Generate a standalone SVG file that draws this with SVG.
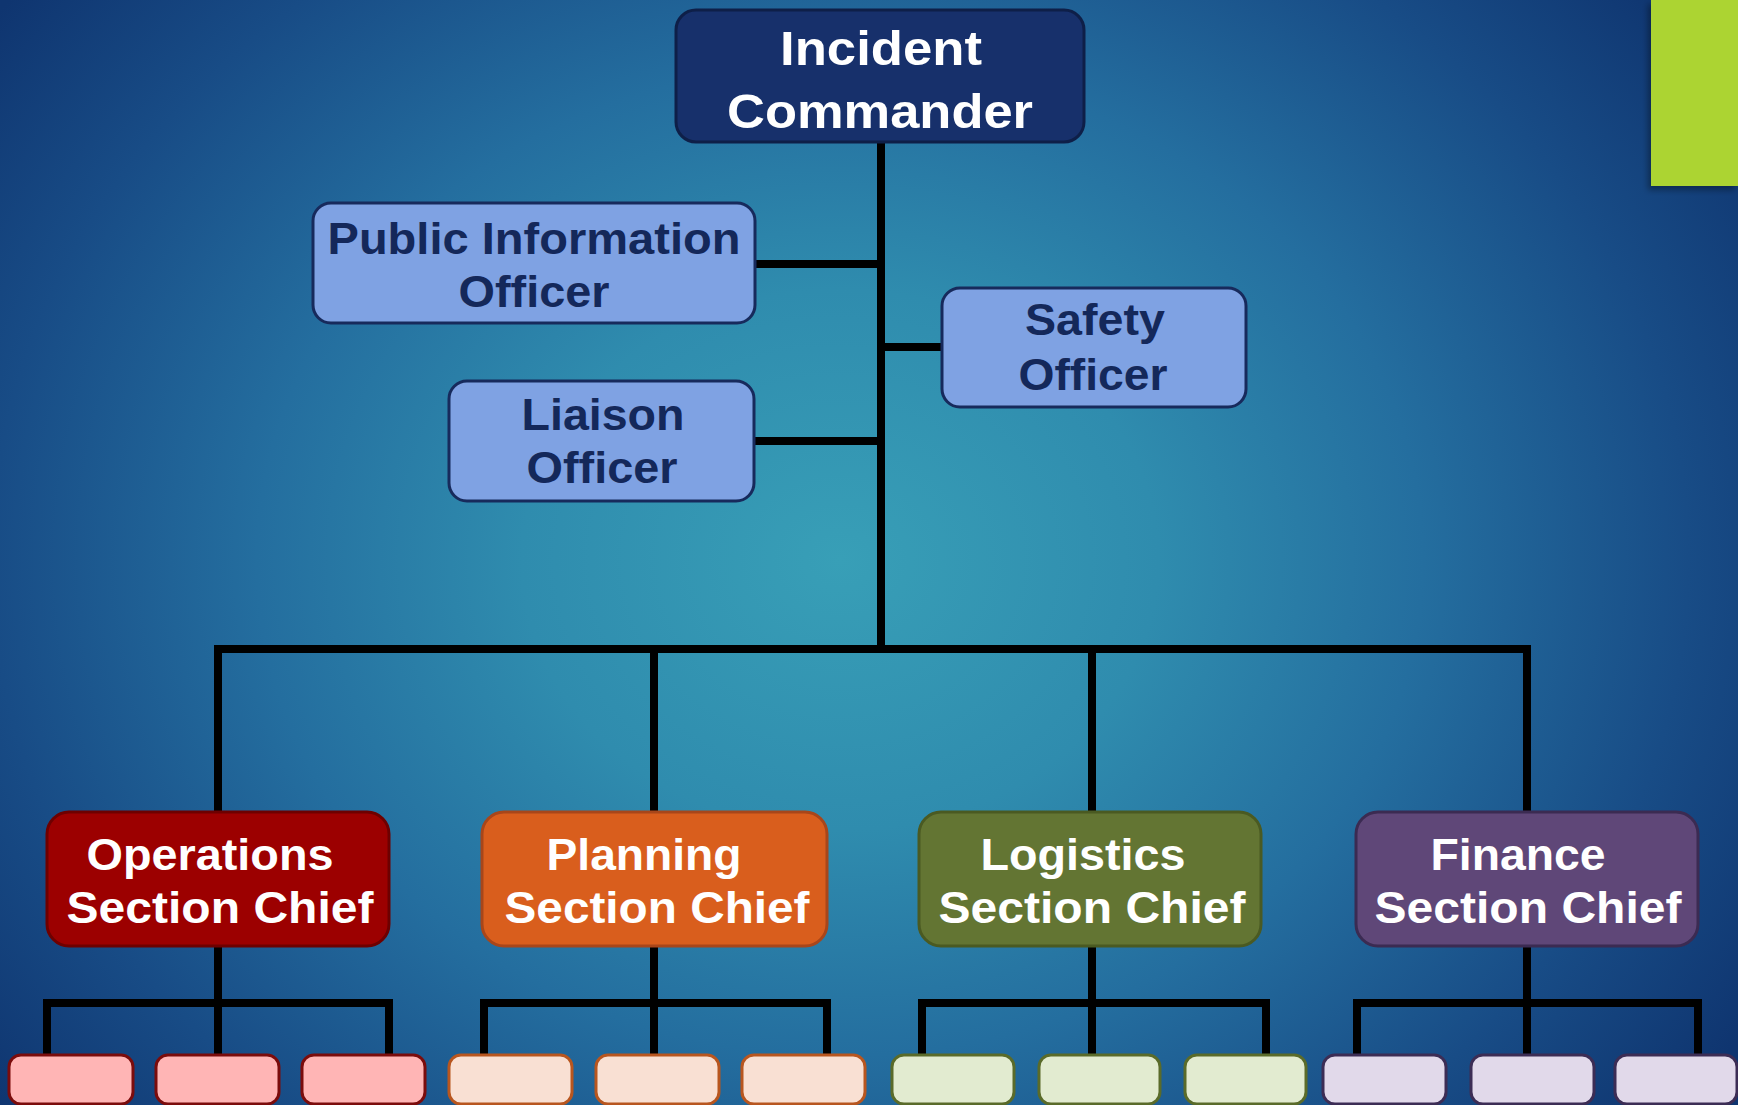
<svg xmlns="http://www.w3.org/2000/svg" width="1738" height="1105" viewBox="0 0 1738 1105">
<defs>
<radialGradient id="bg" gradientUnits="userSpaceOnUse" cx="840" cy="560" r="1060" gradientTransform="translate(840 560) scale(1 0.85) translate(-840 -560)">
<stop offset="0" stop-color="#389fb7"/>
<stop offset="0.3" stop-color="#2f8cae"/>
<stop offset="0.55" stop-color="#246e9f"/>
<stop offset="0.8" stop-color="#184c86"/>
<stop offset="1" stop-color="#0f3570"/>
</radialGradient>
<filter id="sh" x="-10%" y="-10%" width="130%" height="140%">
<feDropShadow dx="-3" dy="4" stdDeviation="3" flood-color="#000" flood-opacity="0.35"/>
</filter>
</defs>
<style>
.t{font-family:"Liberation Sans",Arial,sans-serif;font-weight:bold;text-anchor:middle}
.w{fill:#ffffff}
.d{fill:#14285a}
.off{fill:#7fa2e3;stroke:#172a5c;stroke-width:3}
.ln{fill:none;stroke:#000;stroke-width:8;stroke-linejoin:miter;stroke-linecap:butt}
.sub{stroke-width:3}
</style>
<rect x="0" y="0" width="1738" height="1105" fill="url(#bg)"/>
<rect x="1651" y="0" width="87" height="186" fill="#acd433" filter="url(#sh)"/>

<g id="connectors" class="ln">
<path d="M881 141 V649"/>
<path d="M755 264 H881"/>
<path d="M754 441 H881"/>
<path d="M881 347 H942"/>
<path d="M218 812 V649 H1527 V812"/>
<path d="M654 649 V812"/>
<path d="M1092 649 V812"/>
<path d="M218 946 V1055"/>
<path d="M47 1055 V1003 H389 V1055"/>
<path d="M654 946 V1055"/>
<path d="M484 1055 V1003 H827 V1055"/>
<path d="M1092 946 V1055"/>
<path d="M922 1055 V1003 H1266 V1055"/>
<path d="M1527 946 V1055"/>
<path d="M1357 1055 V1003 H1698 V1055"/>
</g>

<g id="incident-commander">
<rect x="676" y="10" width="408" height="132" rx="20" fill="#17306b" stroke="#0e1f48" stroke-width="3"/>
<text class="t w" x="881" y="65" font-size="49" textLength="202" lengthAdjust="spacingAndGlyphs">Incident</text>
<text class="t w" x="880" y="128" font-size="49" textLength="306" lengthAdjust="spacingAndGlyphs">Commander</text>
</g>

<g id="public-information-officer">
<rect class="off" x="313" y="203" width="442" height="120" rx="18"/>
<text class="t d" x="534" y="254" font-size="44" textLength="413" lengthAdjust="spacingAndGlyphs">Public Information</text>
<text class="t d" x="534" y="307" font-size="44" textLength="151" lengthAdjust="spacingAndGlyphs">Officer</text>
</g>

<g id="liaison-officer">
<rect class="off" x="449" y="381" width="305" height="120" rx="18"/>
<text class="t d" x="603" y="430" font-size="44" textLength="163" lengthAdjust="spacingAndGlyphs">Liaison</text>
<text class="t d" x="602" y="483" font-size="44" textLength="151" lengthAdjust="spacingAndGlyphs">Officer</text>
</g>

<g id="safety-officer">
<rect class="off" x="942" y="288" width="304" height="119" rx="18"/>
<text class="t d" x="1095" y="335" font-size="44" textLength="140" lengthAdjust="spacingAndGlyphs">Safety</text>
<text class="t d" x="1093" y="390" font-size="44" textLength="149" lengthAdjust="spacingAndGlyphs">Officer</text>
</g>

<g id="operations-section-chief">
<rect x="47" y="812" width="342" height="134" rx="22" fill="#9c0000" stroke="#6e0000" stroke-width="3"/>
<text class="t w" x="210" y="870" font-size="45" textLength="247" lengthAdjust="spacingAndGlyphs">Operations</text>
<text class="t w" x="220" y="923" font-size="45" textLength="307" lengthAdjust="spacingAndGlyphs">Section Chief</text>
</g>

<g id="planning-section-chief">
<rect x="482" y="812" width="345" height="134" rx="22" fill="#d95e1d" stroke="#a8461a" stroke-width="3"/>
<text class="t w" x="644" y="870" font-size="45" textLength="195" lengthAdjust="spacingAndGlyphs">Planning</text>
<text class="t w" x="657" y="923" font-size="45" textLength="305" lengthAdjust="spacingAndGlyphs">Section Chief</text>
</g>

<g id="logistics-section-chief">
<rect x="919" y="812" width="342" height="134" rx="22" fill="#637533" stroke="#4a5a22" stroke-width="3"/>
<text class="t w" x="1083" y="870" font-size="45" textLength="205" lengthAdjust="spacingAndGlyphs">Logistics</text>
<text class="t w" x="1092" y="923" font-size="45" textLength="307" lengthAdjust="spacingAndGlyphs">Section Chief</text>
</g>

<g id="finance-section-chief">
<rect x="1356" y="812" width="342" height="134" rx="22" fill="#5f4778" stroke="#3b2b52" stroke-width="3"/>
<text class="t w" x="1518" y="870" font-size="45" textLength="175" lengthAdjust="spacingAndGlyphs">Finance</text>
<text class="t w" x="1528" y="923" font-size="45" textLength="307" lengthAdjust="spacingAndGlyphs">Section Chief</text>
</g>

<g id="operations-units">
<rect class="sub" x="9" y="1055" width="124" height="49" rx="12" fill="#ffb5b5" stroke="#7b0c0c"/>
<rect class="sub" x="156" y="1055" width="123" height="49" rx="12" fill="#ffb5b5" stroke="#7b0c0c"/>
<rect class="sub" x="302" y="1055" width="123" height="49" rx="12" fill="#ffb5b5" stroke="#7b0c0c"/>
</g>
<g id="planning-units">
<rect class="sub" x="449" y="1055" width="123" height="49" rx="12" fill="#f9e0d3" stroke="#b8561f"/>
<rect class="sub" x="596" y="1055" width="123" height="49" rx="12" fill="#f9e0d3" stroke="#b8561f"/>
<rect class="sub" x="742" y="1055" width="123" height="49" rx="12" fill="#f9e0d3" stroke="#b8561f"/>
</g>
<g id="logistics-units">
<rect class="sub" x="892" y="1055" width="122" height="49" rx="12" fill="#e2ebd0" stroke="#5a6b2a"/>
<rect class="sub" x="1039" y="1055" width="121" height="49" rx="12" fill="#e2ebd0" stroke="#5a6b2a"/>
<rect class="sub" x="1185" y="1055" width="121" height="49" rx="12" fill="#e2ebd0" stroke="#5a6b2a"/>
</g>
<g id="finance-units">
<rect class="sub" x="1323" y="1055" width="123" height="49" rx="12" fill="#e1d9ea" stroke="#3c2d55"/>
<rect class="sub" x="1471" y="1055" width="123" height="49" rx="12" fill="#e1d9ea" stroke="#3c2d55"/>
<rect class="sub" x="1615" y="1055" width="122" height="49" rx="12" fill="#e1d9ea" stroke="#3c2d55"/>
</g>
</svg>
